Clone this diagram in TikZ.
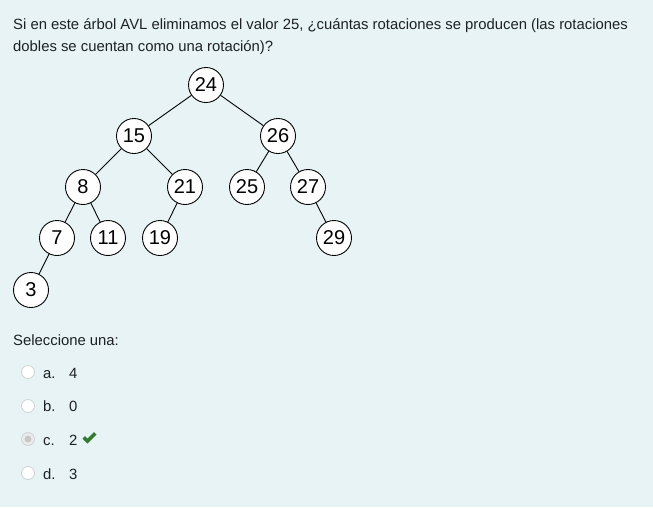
\documentclass[tikz,border=0pt]{standalone}
\usepackage{fontspec}
\setmainfont{Liberation Sans}
\definecolor{bg}{HTML}{E7F3F5}
\definecolor{txt}{HTML}{1D2125}
\definecolor{radioborder}{HTML}{CDD2D5}
\definecolor{okgreen}{HTML}{357A32}
\begin{document}
\begin{tikzpicture}[x=1pt,y=-1pt,
  tn/.style={circle,draw=black,line width=0.9pt,fill=white,minimum size=35pt,inner sep=0pt,font=\fontsize{20}{24}\selectfont},
  edge/.style={line width=0.9pt},
  para/.style={anchor=base west,inner sep=0pt,text=txt,font=\fontsize{14.85}{18}\selectfont},
  radio/.style={circle,draw=radioborder,line width=0.8pt,fill=white,minimum size=13pt,inner sep=0pt}]
\fill[bg] (0,0) rectangle (653,507);
\useasboundingbox (0,0) rectangle (653,507);
\node[para] (q1) at (13,29) {Si en este árbol AVL eliminamos el valor 25, ¿cuántas rotaciones se producen (las rotaciones};
\node[para] (q2) at (13,51) {dobles se cuentan como una rotación)?};
% tree
\node[tn] (n24) at (206,85) {24};
\node[tn] (n15) at (134,136) {15};
\node[tn] (n26) at (278,136) {26};
\node[tn] (n8) at (83,187) {8};
\node[tn] (n21) at (185,187) {21};
\node[tn] (n25) at (247,187) {25};
\node[tn] (n27) at (308,187) {27};
\node[tn] (n7) at (57,238) {7};
\node[tn] (n11) at (108,238) {11};
\node[tn] (n19) at (160,238) {19};
\node[tn] (n29) at (334,238) {29};
\node[tn] (n3) at (31,290) {3};
\draw[edge] (n24) -- (n15);
\draw[edge] (n24) -- (n26);
\draw[edge] (n15) -- (n8);
\draw[edge] (n15) -- (n21);
\draw[edge] (n26) -- (n25);
\draw[edge] (n26) -- (n27);
\draw[edge] (n8) -- (n7);
\draw[edge] (n8) -- (n11);
\draw[edge] (n21) -- (n19);
\draw[edge] (n27) -- (n29);
\draw[edge] (n7) -- (n3);
% answers
\node[para] (sel) at (13,345) {Seleccione una:};
\node[radio] (ra) at (28,372) {};
\node[radio] (rb) at (28,406) {};
\node[radio,fill=white!92!black] (rc) at (28,439) {};
\fill[white!78!black] (rc.center) circle (3.5);
\node[radio] (rd) at (28,473) {};
\node[para] (la) at (43,378) {a.};
\node[para] (va) at (69,378) {4};
\node[para] (lb) at (43,411) {b.};
\node[para] (vb) at (69,411) {0};
\node[para] (lc) at (43,445) {c.};
\node[para] (vc) at (69,445) {2};
\node[para] (ld) at (43,479) {d.};
\node[para] (vd) at (69,479) {3};
\coordinate (ck) at (89,439);
\fill[okgreen] (ck) ++(-6.5,-0.5) -- ++(2.5,-2.5) -- ++(2.5,2.5) -- ++(6.5,-6.5) -- ++(2.5,2.5) -- ++(-9,9) -- cycle;
\end{tikzpicture}
\end{document}
